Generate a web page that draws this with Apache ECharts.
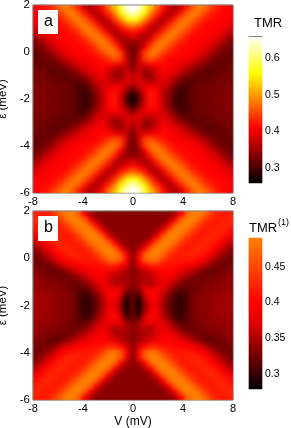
<!DOCTYPE html>
<html><head><meta charset="utf-8">
<style>
html,body{margin:0;padding:0;background:#fff}
#main,#soft{position:absolute;left:0;top:0;width:291px;height:428px}
#soft{filter:blur(2px);clip-path:path(evenodd,"M34 6H233V193H34Z M38 10H58V34H38Z M34 212H233V400H34Z M38 216H58V241H38Z")}
</style>
<script src="https://cdn.jsdelivr.net/npm/echarts@6/dist/echarts.min.js"></script>
</head><body>
<div id="main"></div><div id="soft"></div>
<script>
// Quadrant of each panel: rows eps = 2 ... -2 (step .25), columns V = 0 ... 8 (step .5).
// The maps are symmetric about V = 0 and eps = -2.
const quadA = [
[.66,.65,.58,.52,.47,.42,.38,.36,.385,.43,.465,.485,.47,.445,.425,.415,.41],
[.64,.60,.55,.48,.43,.39,.36,.385,.43,.465,.485,.47,.445,.425,.415,.41,.41],
[.57,.55,.49,.44,.39,.36,.385,.43,.465,.485,.47,.445,.425,.415,.41,.41,.405],
[.49,.47,.43,.39,.36,.385,.43,.465,.485,.47,.445,.425,.415,.41,.41,.405,.395],
[.43,.41,.39,.36,.385,.43,.465,.485,.47,.445,.425,.415,.41,.41,.405,.395,.38],
[.39,.375,.355,.38,.43,.465,.485,.47,.445,.425,.415,.41,.41,.405,.395,.38,.355],
[.35,.35,.37,.425,.465,.485,.47,.445,.425,.415,.41,.41,.405,.395,.38,.355,.335],
[.33,.345,.41,.46,.485,.47,.445,.425,.415,.41,.41,.405,.395,.38,.355,.335,.325],
[.32,.37,.45,.48,.47,.445,.425,.415,.41,.41,.405,.395,.38,.355,.335,.325,.32],
[.32,.38,.44,.455,.435,.42,.41,.405,.405,.40,.39,.375,.355,.335,.325,.32,.32],
[.33,.375,.39,.40,.41,.415,.41,.40,.395,.38,.365,.345,.33,.32,.32,.32,.325],
[.35,.38,.35,.36,.39,.405,.405,.395,.38,.355,.335,.325,.315,.315,.32,.325,.33],
[.38,.385,.35,.35,.38,.40,.39,.37,.345,.33,.32,.315,.32,.32,.325,.33,.33],
[.38,.39,.38,.37,.385,.39,.375,.345,.32,.31,.315,.32,.32,.325,.33,.33,.33],
[.33,.37,.40,.41,.40,.38,.355,.32,.30,.305,.32,.325,.325,.33,.33,.335,.335],
[.285,.33,.39,.42,.41,.37,.34,.305,.295,.305,.32,.325,.325,.33,.33,.335,.335],
[.26,.305,.385,.42,.41,.37,.34,.30,.295,.305,.32,.325,.325,.33,.335,.335,.335]
];
const quadB = [
[.335,.335,.335,.335,.335,.335,.335,.35,.40,.47,.49,.49,.47,.44,.42,.415,.42],
[.335,.335,.335,.335,.335,.335,.35,.40,.47,.49,.49,.47,.44,.42,.415,.42,.425],
[.335,.335,.335,.335,.335,.35,.40,.47,.49,.49,.47,.44,.42,.415,.42,.425,.42],
[.335,.335,.335,.335,.35,.40,.47,.49,.49,.47,.44,.42,.415,.42,.425,.42,.405],
[.335,.335,.335,.35,.40,.47,.49,.49,.47,.44,.42,.415,.42,.425,.42,.405,.385],
[.335,.335,.35,.40,.47,.49,.49,.47,.44,.42,.415,.42,.425,.42,.405,.385,.36],
[.335,.35,.40,.47,.49,.49,.47,.44,.42,.415,.42,.425,.42,.405,.385,.36,.34],
[.335,.39,.465,.49,.49,.47,.44,.42,.415,.42,.425,.42,.405,.385,.36,.34,.33],
[.335,.40,.46,.48,.47,.44,.42,.415,.415,.415,.41,.40,.385,.36,.34,.33,.325],
[.335,.37,.40,.42,.42,.41,.41,.405,.40,.395,.385,.37,.35,.335,.325,.325,.33],
[.335,.345,.36,.375,.39,.40,.40,.39,.38,.365,.35,.335,.325,.32,.325,.33,.335],
[.335,.345,.35,.355,.375,.39,.39,.375,.355,.34,.33,.325,.325,.33,.33,.335,.34],
[.335,.35,.355,.35,.37,.385,.37,.35,.335,.325,.325,.33,.33,.335,.335,.34,.34],
[.33,.345,.375,.38,.385,.375,.355,.33,.32,.32,.325,.33,.335,.335,.34,.34,.34],
[.325,.31,.37,.405,.39,.36,.335,.31,.305,.315,.33,.335,.335,.34,.34,.345,.345],
[.325,.29,.35,.39,.395,.35,.325,.305,.30,.315,.33,.335,.335,.34,.345,.345,.345],
[.325,.285,.34,.385,.38,.345,.325,.305,.30,.315,.33,.335,.335,.34,.345,.345,.345]
];
const voltages = [-8,-7.5,-7,-6.5,-6,-5.5,-5,-4.5,-4,-3.5,-3,-2.5,-2,-1.5,-1,-.5,0,.5,1,1.5,2,2.5,3,3.5,4,4.5,5,5.5,6,6.5,7,7.5,8];
const epsilons = [-6,-5.75,-5.5,-5.25,-5,-4.75,-4.5,-4.25,-4,-3.75,-3.5,-3.25,-3,-2.75,-2.5,-2.25,-2,-1.75,-1.5,-1.25,-1,-.75,-.5,-.25,0,.25,.5,.75,1,1.25,1.5,1.75,2];
const ticksA = [0.3,0.4,0.5,0.6];
const ticksB = [0.3,0.35,0.4,0.45];
const rangeA = [0.259,0.66];
const rangeB = [0.279,0.49];
const hotA = ['#000000','#550000','#aa0000','#ff0000','#ff5500','#ffaa00','#ffff00','#ffff80','#ffffff'];
const hotB = ['#000000','#490000','#920000','#db0000','#ff0000','#ff2b00','#ff5500','#ff8000'];

const FONT = 'Liberation Sans';
function cells(quad){
  const out = [];
  epsilons.forEach((e,yi)=>{
    const row = quad[16-Math.abs(yi-16)];
    voltages.forEach((v,xi)=>{ out.push([xi,yi,row[Math.abs(xi-16)]]); });
  });
  return out;
}
// Colour-key ramp: one cell per screen pixel of the colour bar.
function ramp(range,n){
  const out=[];
  for(let i=0;i<n;i++) out.push([0,i,range[0]+(range[1]-range[0])*(i+.5)/n]);
  return out;
}
function build(plain){
  const line = {color:'#808080',width:1};
  const panels = [{top:5,height:188},{top:211,height:189}];
  const bars = [{top:36,height:147,range:rangeA,ticks:ticksA},{top:238,height:151,range:rangeB,ticks:ticksB}];
  const grid=[], xAxis=[], yAxis=[];
  panels.forEach((p,k)=>{
    grid.push({left:33,width:200,top:p.top,height:p.height,show:!plain,z:5,borderColor:'#808080',borderWidth:1,backgroundColor:'transparent',outerBoundsMode:'none'});
    xAxis.push({type:'category',gridIndex:k,data:voltages.map(String),show:false});
    yAxis.push({type:'category',gridIndex:k,data:epsilons.map(String),show:false});
  });
  panels.forEach((p,k)=>{
    xAxis.push({type:'value',gridIndex:k,position:'bottom',min:-8,max:8,interval:4,show:!plain,
      axisLine:{show:false},axisTick:{show:false},splitLine:{show:false},
      axisLabel:{show:true,color:'#000',fontFamily:FONT,fontSize:11,margin:3,hideOverlap:false,showMinLabel:true,showMaxLabel:true},
      name:k===1?'V (mV)':'',nameLocation:'middle',nameGap:16,nameTextStyle:{color:'#000',fontFamily:FONT,fontSize:12}});
    yAxis.push({type:'value',gridIndex:k,position:'left',min:-6,max:2,interval:2,show:!plain,
      axisLine:{show:false},axisTick:{show:false},splitLine:{show:false},
      axisLabel:{show:true,color:'#000',fontFamily:FONT,fontSize:11.5,margin:3,hideOverlap:false,showMinLabel:true,showMaxLabel:true},
      name:'\u03b5 (meV)',nameLocation:'middle',nameGap:17,nameTextStyle:{color:'#000',fontFamily:FONT,fontSize:11.5}});
  });
  const extra=[];
  if(!plain){
    bars.forEach((b,k)=>{
      grid.push({left:249,width:13,top:b.top,height:b.height,show:false,outerBoundsMode:'none'});
      xAxis.push({type:'category',gridIndex:2+k,data:['c'],show:false});
      yAxis.push({type:'category',gridIndex:2+k,data:ramp(b.range,b.height).map(c=>String(c[1])),show:false});
      xAxis.push({type:'value',gridIndex:2+k,min:0,max:1,position:'top',z:20,axisLabel:{show:false},axisTick:{show:false},splitLine:{show:false},
        axisLine:{show:k===0,onZero:false,lineStyle:line}});
      yAxis.push({type:'value',gridIndex:2+k,position:'right',min:b.range[0],max:b.range[1],z:20,splitLine:{show:false},
        axisLine:{show:false},
        axisTick:{show:false},
        axisLabel:{show:true,color:'#000',fontFamily:FONT,fontSize:10.5,margin:3,customValues:b.ticks,hideOverlap:false}});
      extra.push({type:'heatmap',xAxisIndex:4+2*k,yAxisIndex:4+2*k,data:ramp(b.range,b.height),itemStyle:{borderWidth:0},progressive:0,silent:true,emphasis:{disabled:true}});
    });
  }
  return {
    animation:false,
    backgroundColor:'transparent',
    grid,xAxis,yAxis,
    title: plain?[]:[
      {text:'TMR',left:254,top:17,padding:0,textStyle:{color:'#000',fontFamily:FONT,fontSize:13,fontWeight:'normal'}},
      {text:'TMR',left:249,top:222,padding:0,textStyle:{color:'#000',fontFamily:FONT,fontSize:13,fontWeight:'normal'}},
      {text:'(1)',left:278,top:218,padding:0,textStyle:{color:'#000',fontFamily:FONT,fontSize:9,fontWeight:'normal'}}
    ],
    visualMap:[
      {type:'continuous',seriesIndex:plain?[0]:[0,2],min:rangeA[0],max:rangeA[1],show:false,inRange:{color:hotA}},
      {type:'continuous',seriesIndex:plain?[1]:[1,3],min:rangeB[0],max:rangeB[1],show:false,inRange:{color:hotB}}
    ],
    series:[
      {type:'heatmap',xAxisIndex:0,yAxisIndex:0,data:cells(quadA),itemStyle:{borderWidth:0},progressive:0,silent:true,emphasis:{disabled:true}},
      {type:'heatmap',xAxisIndex:1,yAxisIndex:1,data:cells(quadB),itemStyle:{borderWidth:0},progressive:0,silent:true,emphasis:{disabled:true}}
    ].concat(extra),
    graphic: plain?[]:[
      {type:'rect',left:38,top:10,z:100,shape:{width:20,height:24},style:{fill:'#fff'}},
      {type:'text',left:44,top:14,z:101,style:{text:'a',fill:'#000',font:'16px "Liberation Sans"'}},
      {type:'rect',left:38,top:216,z:100,shape:{width:20,height:25},style:{fill:'#fff'}},
      {type:'text',left:44,top:220,z:101,style:{text:'b',fill:'#000',font:'16px "Liberation Sans"'}}
    ]
  };
}
echarts.init(document.getElementById('main'),null,{renderer:'canvas'}).setOption(build(false));
echarts.init(document.getElementById('soft'),null,{renderer:'canvas'}).setOption(build(true));
</script>
</body></html>
